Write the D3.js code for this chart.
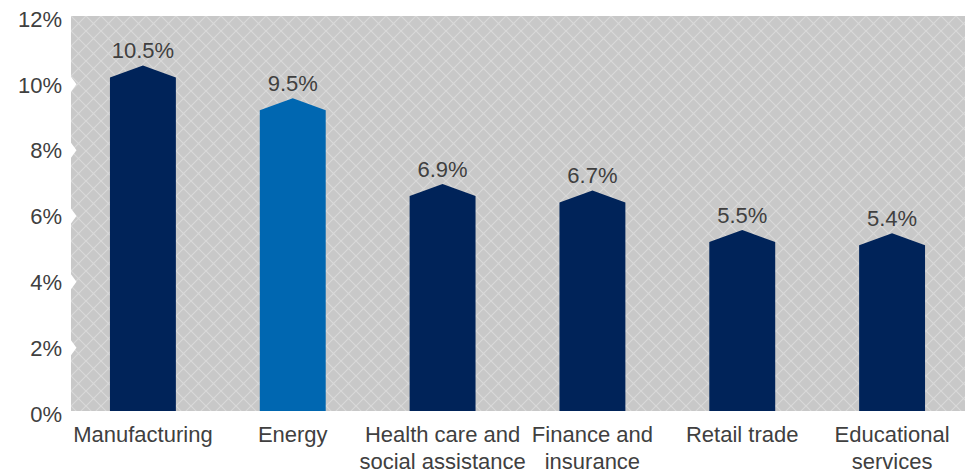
<!DOCTYPE html>
<html>
<head>
<meta charset="utf-8">
<script src="https://cdn.jsdelivr.net/npm/d3@7"></script>
<style>
  html, body { margin: 0; padding: 0; background: #ffffff; }
  svg { display: block; }
  text { font-family: "Liberation Sans", Arial, Helvetica, sans-serif; fill: #404040; }
</style>
</head>
<body>
<svg id="chart" width="968" height="472"></svg>
<script>
const categories = ["Manufacturing", "Energy", "Health care and\nsocial assistance", "Finance and\ninsurance", "Retail trade", "Educational\nservices"];
const values = [10.5, 9.5, 6.9, 6.7, 5.5, 5.4];
const highlighted = ["Energy"];
const yTicks = [0, 2, 4, 6, 8, 10, 12];

const W = 968, H = 472;
const margin = { left: 71, right: 3, top: 16, bottom: 61 };
const svg = d3.select("#chart");

const x = d3.scaleBand()
  .domain(categories)
  .range([68, 967])
  .paddingInner(0.56)
  .paddingOuter(0.28);

const y = d3.scaleLinear()
  .domain([0, 12])
  .range([H - margin.bottom, margin.top]);

// hatch pattern
const s = 15;
const defs = svg.append("defs");
const pat = defs.append("pattern")
  .attr("id", "hatch")
  .attr("patternUnits", "userSpaceOnUse")
  .attr("x", margin.left).attr("y", margin.top)
  .attr("width", s).attr("height", s);
pat.append("rect").attr("width", s).attr("height", s).attr("fill", "#c8c8c8");
pat.append("path")
  .attr("d", `M-2,-2L${s + 2},${s + 2}M-2,${s + 2}L${s + 2},-2`)
  .attr("stroke", "#d9d9d9").attr("stroke-width", 1.2).attr("fill", "none");

// plot background
svg.append("rect")
  .attr("x", margin.left)
  .attr("y", y(12))
  .attr("width", W - margin.right - margin.left)
  .attr("height", y(0) - y(12))
  .attr("fill", "url(#hatch)");

// white notches at ticks
svg.append("g").selectAll("path")
  .data(yTicks.filter(t => t > 0 && t < 12))
  .join("path")
  .attr("d", t => `M${margin.left},${y(t) - 7.5 + 2.5}L${margin.left + 5.5},${y(t) + 2.5}L${margin.left},${y(t) + 7.5 + 2.5}Z`)
  .attr("fill", "#ffffff");

// y axis labels
svg.append("g").selectAll("text")
  .data(yTicks)
  .join("text")
  .attr("x", 62)
  .attr("y", t => y(t) + 3)
  .attr("dy", "0.35em")
  .attr("text-anchor", "end")
  .attr("font-size", 22)
  .text(t => t + "%");

// bars (pentagon shape)
const peak = 12;
svg.append("g").selectAll("path")
  .data(categories.map((c, i) => ({ c, v: values[i] })))
  .join("path")
  .attr("d", d => {
    const x0 = x(d.c), x1 = x(d.c) + x.bandwidth(), xm = x0 + x.bandwidth() / 2;
    const yt = y(d.v), yb = y(0);
    return `M${x0},${yb}L${x0},${yt + peak}L${xm},${yt}L${x1},${yt + peak}L${x1},${yb}Z`;
  })
  .attr("fill", d => highlighted.includes(d.c) ? "#0067b1" : "#002359");

// value labels
svg.append("g").selectAll("text")
  .data(categories.map((c, i) => ({ c, v: values[i] })))
  .join("text")
  .attr("x", d => x(d.c) + x.bandwidth() / 2)
  .attr("y", d => y(d.v) - 7)
  .attr("text-anchor", "middle")
  .attr("font-size", 22)
  .text(d => d3.format(".1f")(d.v) + "%");

// x axis labels
const xl = svg.append("g").selectAll("text")
  .data(categories)
  .join("text")
  .attr("x", d => x(d) + x.bandwidth() / 2)
  .attr("y", 442)
  .attr("text-anchor", "middle")
  .attr("font-size", 22);
xl.each(function(d) {
  const lines = d.split("\n");
  d3.select(this).selectAll("tspan")
    .data(lines)
    .join("tspan")
    .attr("x", x(d) + x.bandwidth() / 2)
    .attr("dy", (l, i) => i === 0 ? 0 : 26.5)
    .text(l => l);
});
</script>
</body>
</html>
